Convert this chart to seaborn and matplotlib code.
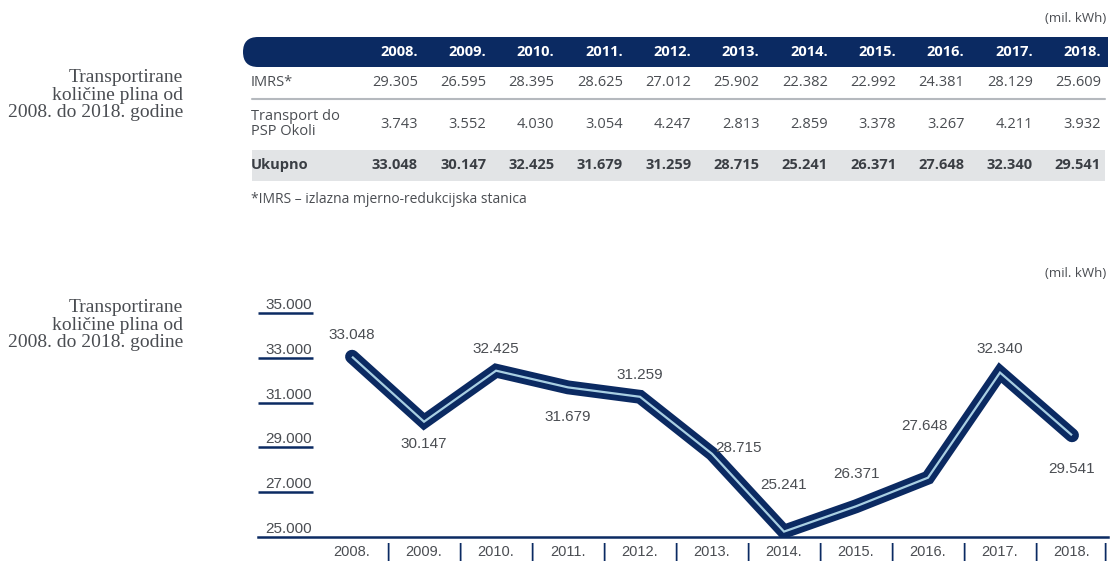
import numpy as np
import pandas as pd
import matplotlib
matplotlib.use("Agg")
import matplotlib.pyplot as plt
from matplotlib.patches import FancyBboxPatch, Rectangle
import matplotlib.transforms as mtransforms
import seaborn as sns

# --- data ---
years = ['2008.', '2009.', '2010.', '2011.', '2012.', '2013.',
         '2014.', '2015.', '2016.', '2017.', '2018.']
imrs = [29305, 26595, 28395, 28625, 27012, 25902, 22382, 22992, 24381, 28129, 25609]
psp_okoli = [3743, 3552, 4030, 3054, 4247, 2813, 2859, 3378, 3267, 4211, 3932]
ukupno = [33048, 30147, 32425, 31679, 31259, 28715, 25241, 26371, 27648, 32340, 29541]
row_labels = ['IMRS*', 'Transport do\nPSP Okoli', 'Ukupno']
y_ticks = [25000, 27000, 29000, 31000, 33000, 35000]
unit = '(mil. kWh)'
side_title = 'Transportirane\nkoličine plina od\n2008. do 2018. godine'
footnote = '*IMRS – izlazna mjerno-redukcijska stanica'

# where each value label sits relative to its point (pixels)
label_offsets = [(0, 22), (0, -22), (0, 22), (0, -30), (0, 22), (26, 6),
                 (0, 47), (0, 32), (-4, 52), (0, 24), (0, -34)]

NAVY = '#0b2a62'
LIGHT = '#a9cfe2'
GREY_TXT = '#4a4d52'
DARK_TXT = '#3a3e44'
NUM_FONT = 'Liberation Sans'

sns.set_theme(style='white')
plt.rcParams['font.family'] = ['Open Sans', 'DejaVu Sans']


def thousands(v):
    return f'{v:,}'.replace(',', '.')


fig = plt.figure(figsize=(11.1, 5.61), dpi=100)

# --- table (pixel layout axes) ---
tab = fig.add_axes([0, 0, 1, 1])
tab.set_xlim(0, 1110)
tab.set_ylim(561, 0)
tab.axis('off')

tab.text(1106, 18, unit, ha='right', va='center', fontsize=9.5, color=GREY_TXT)
tab.add_patch(FancyBboxPatch((243, 37), 865, 30, boxstyle='round,pad=0,rounding_size=15',
                             fc=NAVY, ec='none'))
tab.add_patch(Rectangle((1080, 37), 28, 30, fc=NAVY, ec='none'))
tab.add_patch(Rectangle((252, 150), 853, 31, fc='#e2e4e6', ec='none'))
tab.plot([252, 1105], [99, 99], color='#b5b9be', lw=1.5)

fs = 10.5
col_right = 418 + np.arange(len(years)) * 68.3
for i, yr in enumerate(years):
    tab.text(col_right[i], 52, yr, ha='right', va='center', fontsize=fs,
             fontweight='bold', color='white')
    tab.text(col_right[i], 82, thousands(imrs[i]), ha='right', va='center',
             fontsize=fs, color=GREY_TXT)
    tab.text(col_right[i], 124, thousands(psp_okoli[i]), ha='right', va='center',
             fontsize=fs, color=GREY_TXT)
    tab.text(col_right[i], 165, thousands(ukupno[i]), ha='right', va='center',
             fontsize=fs, fontweight='bold', color=DARK_TXT)

tab.text(251, 82, row_labels[0], ha='left', va='center', fontsize=fs, color=GREY_TXT)
tab.text(251, 124, row_labels[1], ha='left', va='center', fontsize=fs, color=GREY_TXT,
         linespacing=1.05)
tab.text(251, 165, row_labels[2], ha='left', va='center', fontsize=fs,
         fontweight='bold', color=DARK_TXT)
tab.text(251, 199, footnote, ha='left', va='center', fontsize=10, color=GREY_TXT)

for ty in (95, 325):
    tab.text(183, ty, side_title, ha='right', va='center', fontsize=14,
             family='Liberation Serif', color=GREY_TXT, linespacing=1.02)
tab.text(1106, 273, unit, ha='right', va='center', fontsize=9.5, color=GREY_TXT)

# --- line chart ---
ax = fig.add_axes([258 / 1110, 24 / 561, 850 / 1110, 237 / 561])
df = pd.DataFrame({'x': np.arange(len(years)), 'y': ukupno})
sns.lineplot(data=df, x='x', y='y', ax=ax, color=NAVY, linewidth=10,
             solid_capstyle='round', solid_joinstyle='miter')
sns.lineplot(data=df, x='x', y='y', ax=ax, color=LIGHT, linewidth=1.6,
             solid_capstyle='butt', solid_joinstyle='miter')

ax.set_xlim(-1.306, 10.5)
ax.set_ylim(y_ticks[0], 35580)
ax.set_xlabel('')
ax.set_ylabel('')
for s in ('top', 'right', 'left'):
    ax.spines[s].set_visible(False)
ax.spines['bottom'].set_color(NAVY)
ax.spines['bottom'].set_linewidth(1.8)

ax.set_yticks([])
for t in y_ticks:
    if t != y_ticks[0]:
        ax.plot([-1.306, -0.545], [t, t], color=NAVY, lw=1.8, solid_capstyle='butt')
    ax.annotate(thousands(t), (-0.56, t), xytext=(0, 1), textcoords='offset pixels',
                ha='right', va='bottom', fontsize=11, family=NUM_FONT,
                color=GREY_TXT)

ax.set_xticks(np.arange(len(years)))
ax.set_xticklabels(years, family=NUM_FONT, fontsize=10.5, color=GREY_TXT)
ax.tick_params(axis='x', length=0, pad=6)
sep_tr = mtransforms.blended_transform_factory(ax.transData, ax.transAxes)
for i in range(len(years)):
    sx = i + 0.5 if i < len(years) - 1 else i + 0.46
    ax.text(sx, -0.065, '|', transform=sep_tr, ha='center', va='center',
            fontsize=12, fontweight='bold', color=NAVY)

for i, v in enumerate(ukupno):
    dx, dy = label_offsets[i]
    ax.annotate(thousands(v), (i, v), xytext=(dx, dy), textcoords='offset pixels',
                ha='center', va='center', fontsize=11, family=NUM_FONT,
                color=GREY_TXT)

fig.savefig('out.png', dpi=100)
